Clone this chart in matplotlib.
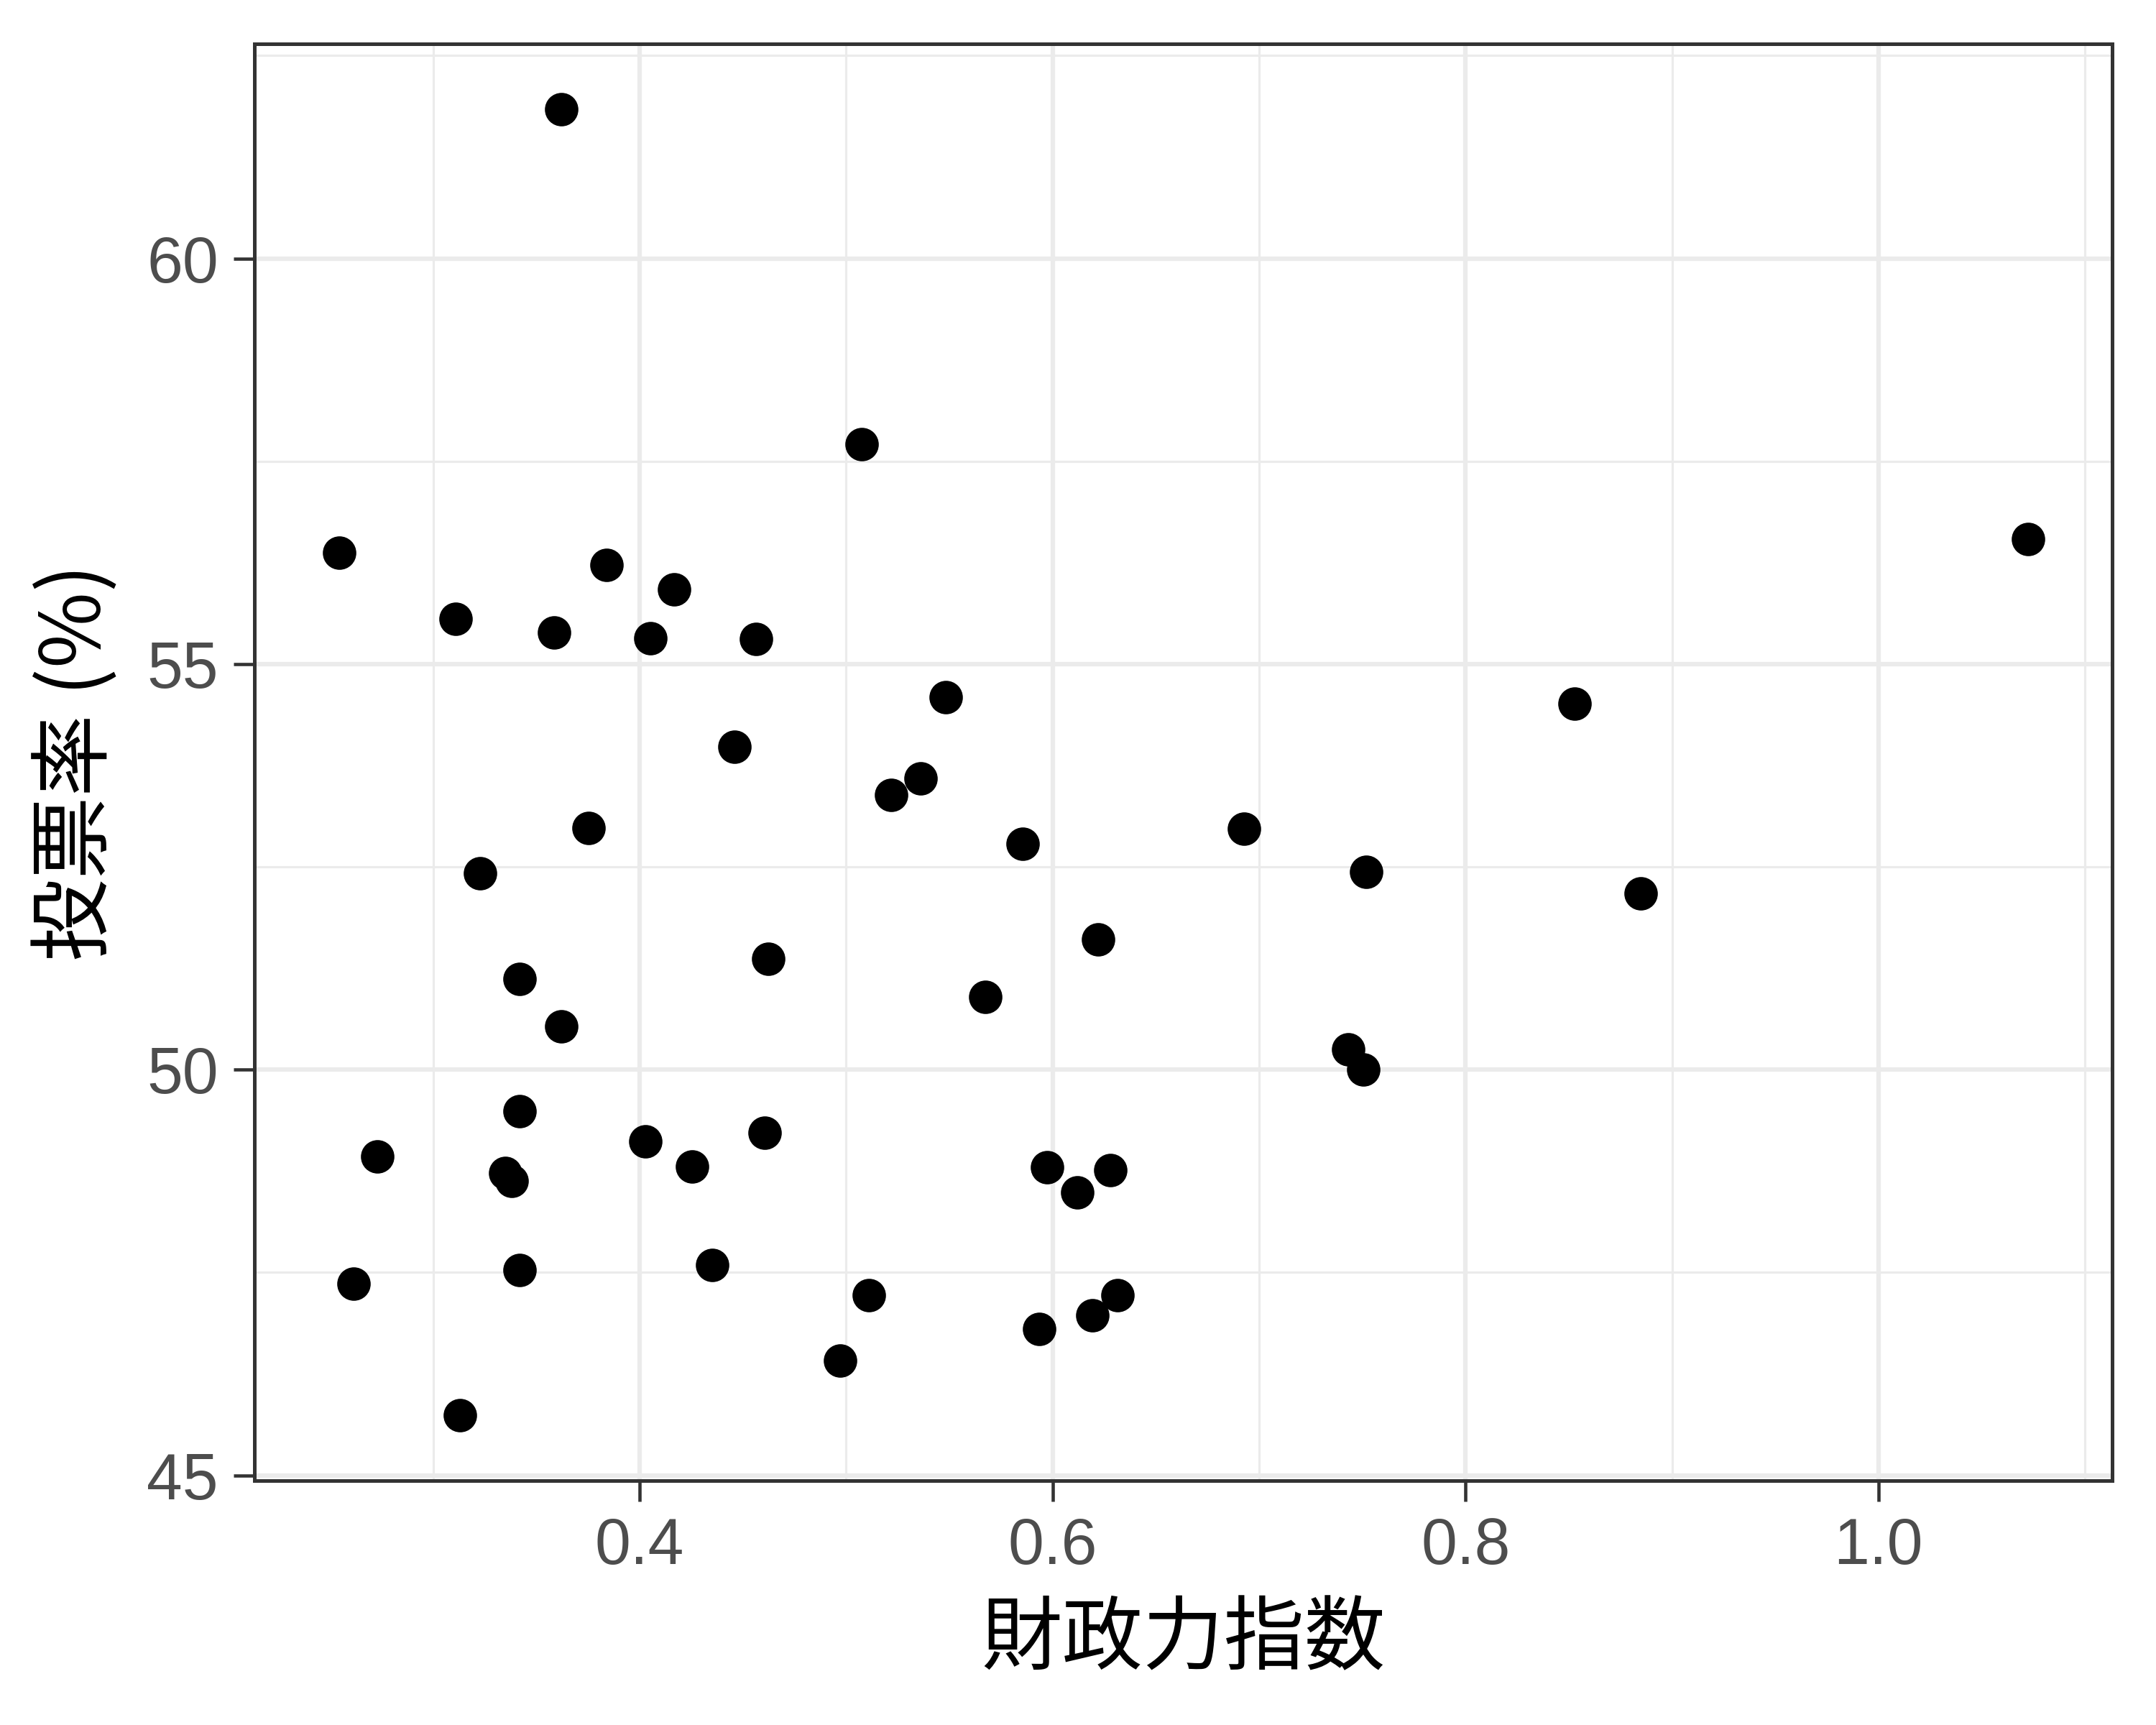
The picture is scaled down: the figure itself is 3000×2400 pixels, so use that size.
import matplotlib
matplotlib.use("Agg")
import matplotlib.pyplot as plt
from matplotlib.ticker import MultipleLocator

zaisei = [0.362, 0.5077, 0.2544, 1.0723, 0.384, 0.4166, 0.3109, 0.3588, 0.4053, 0.4565,
          0.5483, 0.8529, 0.4459, 0.5363, 0.5217, 0.3754, 0.6926, 0.5855, 0.3229, 0.7518,
          0.8848, 0.6221, 0.4625, 0.3421, 0.5676, 0.3621, 0.7432, 0.7505, 0.3421, 0.4027,
          0.4605, 0.2730, 0.3348, 0.3382, 0.4253, 0.5975, 0.6281, 0.6121, 0.4352, 0.3421,
          0.2617, 0.5111, 0.6314, 0.6194, 0.5935, 0.4971, 0.3129]
touhyou = [61.84, 57.71, 56.37, 56.54, 56.22, 55.92, 55.56, 55.39, 55.32, 55.31,
           54.59, 54.51, 53.98, 53.59, 53.39, 52.98, 52.97, 52.78, 52.42, 52.44,
           52.17, 51.61, 51.37, 51.12, 50.90, 50.53, 50.25, 50.00, 49.49, 49.12,
           49.22, 48.93, 48.73, 48.63, 48.81, 48.80, 48.76, 48.49, 47.59, 47.53,
           47.36, 47.22, 47.22, 46.97, 46.80, 46.41, 45.74]

x_ticks = [0.4, 0.6, 0.8, 1.0]
x_ticklabels = ["0.4", "0.6", "0.8", "1.0"]
y_ticks = [45, 50, 55, 60]
y_ticklabels = ["45", "50", "55", "60"]
xlabel = "財政力指数"
ylabel = "投票率 (%)"

cjk = ["Noto Sans CJK JP", "DejaVu Sans"]
tickfont = ["Liberation Sans", "DejaVu Sans"]

fig = plt.figure(figsize=(10, 8), dpi=300)
ax = fig.add_axes([0.118, 0.1417, 0.9797 - 0.118, 0.9746 - 0.1417])

ax.scatter(zaisei, touhyou, s=125, color="black", linewidths=0, zorder=3)

xmin, xmax = min(zaisei), max(zaisei)
ymin, ymax = min(touhyou), max(touhyou)
dx = (xmax - xmin) * 0.05
dy = (ymax - ymin) * 0.05
ax.set_xlim(xmin - dx, xmax + dx)
ax.set_ylim(ymin - dy, ymax + dy)

ax.set_xticks(x_ticks)
ax.set_xticklabels(x_ticklabels)
ax.set_yticks(y_ticks)
ax.set_yticklabels(y_ticklabels)
ax.xaxis.set_minor_locator(MultipleLocator(0.1))
ax.yaxis.set_minor_locator(MultipleLocator(2.5))

ax.grid(which="major", color="#EBEBEB", linewidth=1.5, zorder=0)
ax.grid(which="minor", color="#EBEBEB", linewidth=0.75, zorder=0)
ax.set_axisbelow(True)

ax.tick_params(which="major", length=7, width=1.1, color="#333333",
               labelcolor="#4D4D4D", labelsize=21.5, pad=5)
ax.tick_params(which="minor", length=0)
for lab in ax.get_xticklabels() + ax.get_yticklabels():
    lab.set_family(tickfont)

for sp in ax.spines.values():
    sp.set_color("#333333")
    sp.set_linewidth(1.2)

ax.set_xlabel(xlabel, family=cjk, fontsize=27, color="black", labelpad=7)
ax.set_ylabel(ylabel, family=cjk, fontsize=27.5, color="black", labelpad=9)

fig.savefig("out.png", dpi=300, facecolor="white")
